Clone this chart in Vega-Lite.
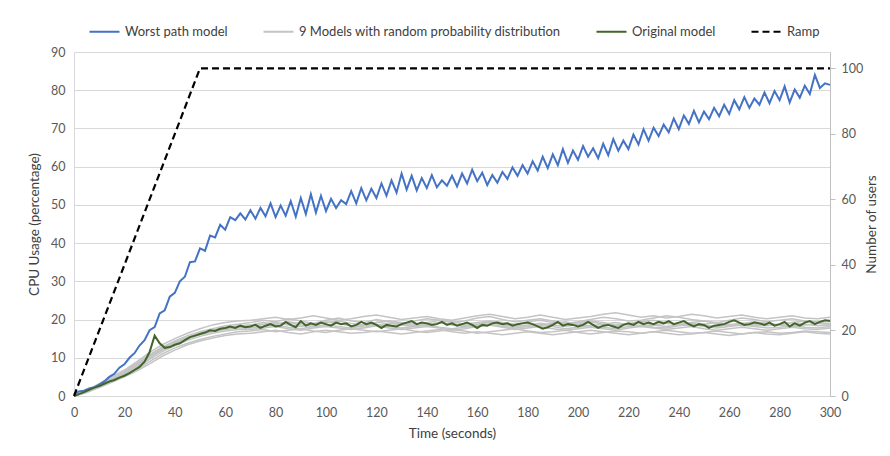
{
"$schema": "https://vega.github.io/schema/vega-lite/v6.json",
"width": 756, "height": 344,
"autosize": "none",
"padding": {"left": 74, "top": 52, "right": 60, "bottom": 60},
"background": "white",
"datasets": {
"main": [
{"t":0,"w":0.5,"o":0},{"t":2,"w":1.2,"o":0.5},{"t":4,"w":1.4,"o":1.0},{"t":6,"w":2.0,"o":1.6},{"t":8,"w":2.2,"o":2.2},{"t":10,"w":3.0,"o":2.6},{"t":12,"w":3.8,"o":3.2},{"t":14,"w":5.0,"o":3.8},{"t":16,"w":5.8,"o":4.2},{"t":18,"w":7.4,"o":4.8},
{"t":20,"w":8.3,"o":5.3},{"t":22,"w":10.0,"o":6.0},{"t":24,"w":11.2,"o":6.8},{"t":26,"w":13.2,"o":7.6},{"t":28,"w":14.6,"o":9.0},{"t":30,"w":17.2,"o":11.5},{"t":32,"w":18.0,"o":15.8},{"t":34,"w":21.6,"o":13.8},{"t":36,"w":22.4,"o":12.6},{"t":38,"w":26.0,"o":12.8},
{"t":40,"w":27.0,"o":13.4},{"t":42,"w":30.0,"o":13.8},{"t":44,"w":31.2,"o":14.6},{"t":46,"w":35.0,"o":15.4},{"t":48,"w":35.2,"o":15.8},{"t":50,"w":38.6,"o":16.2},{"t":52,"w":38.0,"o":16.6},{"t":54,"w":42.0,"o":17.2},{"t":56,"w":41.5,"o":17.0},{"t":58,"w":44.8,"o":17.6},
{"t":60,"w":43.5,"o":17.8},{"t":62,"w":46.8,"o":18.2},{"t":64,"w":46.0,"o":17.8},{"t":66,"w":47.8,"o":18.4},{"t":68,"w":46.2,"o":18.0},{"t":70,"w":48.6,"o":18.2},{"t":72,"w":46.4,"o":18.6},{"t":74,"w":49.2,"o":17.8},{"t":76,"w":47.0,"o":18.4},{"t":78,"w":50.4,"o":18.8},
{"t":80,"w":46.8,"o":18.2},{"t":82,"w":49.8,"o":18.4},{"t":84,"w":47.2,"o":19.4},{"t":86,"w":51.0,"o":18.6},{"t":88,"w":46.9,"o":18.0},{"t":90,"w":51.8,"o":19.6},{"t":92,"w":47.6,"o":18.4},{"t":94,"w":52.8,"o":19.0},{"t":96,"w":48.0,"o":18.6},{"t":98,"w":52.4,"o":19.2},
{"t":100,"w":48.4,"o":18.8},{"t":102,"w":51.6,"o":18.4},{"t":104,"w":49.2,"o":19.2},{"t":106,"w":51.2,"o":18.8},{"t":108,"w":50.2,"o":19.0},{"t":110,"w":53.6,"o":18.2},{"t":112,"w":50.4,"o":18.6},{"t":114,"w":54.4,"o":19.4},{"t":116,"w":51.2,"o":18.8},{"t":118,"w":54.2,"o":19.2},
{"t":120,"w":51.8,"o":18.6},{"t":122,"w":55.6,"o":17.8},{"t":124,"w":52.4,"o":18.6},{"t":126,"w":56.4,"o":18.4},{"t":128,"w":53.2,"o":18.2},{"t":130,"w":58.2,"o":18.8},{"t":132,"w":54.0,"o":19.2},{"t":134,"w":57.6,"o":19.6},{"t":136,"w":53.8,"o":18.8},{"t":138,"w":57.0,"o":19.2},
{"t":140,"w":54.4,"o":19.0},{"t":142,"w":57.8,"o":18.6},{"t":144,"w":54.6,"o":18.8},{"t":146,"w":56.4,"o":19.4},{"t":148,"w":55.0,"o":18.6},{"t":150,"w":57.6,"o":19.0},{"t":152,"w":54.8,"o":18.4},{"t":154,"w":58.2,"o":18.8},{"t":156,"w":55.6,"o":19.2},{"t":158,"w":59.2,"o":18.6},
{"t":160,"w":56.2,"o":17.8},{"t":162,"w":58.4,"o":18.6},{"t":164,"w":55.2,"o":18.4},{"t":166,"w":57.8,"o":19.0},{"t":168,"w":55.8,"o":19.2},{"t":170,"w":58.6,"o":18.8},{"t":172,"w":56.8,"o":19.0},{"t":174,"w":59.8,"o":18.4},{"t":176,"w":57.6,"o":18.8},{"t":178,"w":60.4,"o":19.0},
{"t":180,"w":58.2,"o":19.2},{"t":182,"w":61.4,"o":18.8},{"t":184,"w":59.0,"o":18.2},{"t":186,"w":62.6,"o":17.6},{"t":188,"w":59.6,"o":18.0},{"t":190,"w":63.2,"o":18.6},{"t":192,"w":60.4,"o":19.4},{"t":194,"w":64.6,"o":18.4},{"t":196,"w":61.0,"o":18.8},{"t":198,"w":64.2,"o":18.6},
{"t":200,"w":61.8,"o":18.2},{"t":202,"w":65.4,"o":18.6},{"t":204,"w":62.6,"o":19.4},{"t":206,"w":64.8,"o":18.6},{"t":208,"w":62.2,"o":17.8},{"t":210,"w":66.0,"o":18.4},{"t":212,"w":63.0,"o":18.6},{"t":214,"w":67.2,"o":18.2},{"t":216,"w":64.2,"o":17.8},{"t":218,"w":66.8,"o":18.6},
{"t":220,"w":64.6,"o":19.0},{"t":222,"w":68.4,"o":18.6},{"t":224,"w":65.8,"o":19.4},{"t":226,"w":69.8,"o":18.8},{"t":228,"w":66.8,"o":19.2},{"t":230,"w":70.2,"o":18.8},{"t":232,"w":68.0,"o":19.4},{"t":234,"w":71.0,"o":19.0},{"t":236,"w":69.0,"o":19.6},{"t":238,"w":72.6,"o":18.8},
{"t":240,"w":69.8,"o":19.2},{"t":242,"w":73.4,"o":19.6},{"t":244,"w":71.2,"o":18.8},{"t":246,"w":74.6,"o":18.2},{"t":248,"w":71.6,"o":18.8},{"t":250,"w":74.4,"o":18.6},{"t":252,"w":72.4,"o":17.8},{"t":254,"w":75.4,"o":18.4},{"t":256,"w":73.2,"o":18.6},{"t":258,"w":76.2,"o":18.8},
{"t":260,"w":73.8,"o":19.4},{"t":262,"w":77.4,"o":19.8},{"t":264,"w":75.0,"o":19.2},{"t":266,"w":78.2,"o":18.6},{"t":268,"w":75.4,"o":18.8},{"t":270,"w":77.8,"o":19.2},{"t":272,"w":76.2,"o":19.0},{"t":274,"w":79.4,"o":18.6},{"t":276,"w":76.6,"o":19.2},{"t":278,"w":79.8,"o":18.4},
{"t":280,"w":77.4,"o":18.8},{"t":282,"w":81.0,"o":19.4},{"t":284,"w":76.8,"o":18.2},{"t":286,"w":80.2,"o":19.0},{"t":288,"w":78.0,"o":18.4},{"t":290,"w":81.2,"o":19.2},{"t":292,"w":79.0,"o":19.6},{"t":294,"w":84.0,"o":18.8},{"t":296,"w":80.6,"o":19.4},{"t":298,"w":81.8,"o":19.8},
{"t":300,"w":81.4,"o":19.6}
],
"gray": [
{"t":0,"g1":0,"g2":0,"g3":0,"g4":0,"g5":0,"g6":0,"g7":0,"g8":0,"g9":0},
{"t":5,"g1":1.4,"g2":1.2,"g3":1.0,"g4":1.3,"g5":1.5,"g6":0.9,"g7":1.2,"g8":1.1,"g9":1.3},
{"t":10,"g1":3.0,"g2":2.8,"g3":2.4,"g4":2.9,"g5":3.2,"g6":2.2,"g7":2.7,"g8":2.6,"g9":2.8},
{"t":15,"g1":4.6,"g2":4.2,"g3":3.8,"g4":4.4,"g5":5.0,"g6":3.6,"g7":4.3,"g8":4.0,"g9":4.4},
{"t":20,"g1":6.4,"g2":5.8,"g3":5.2,"g4":6.0,"g5":6.8,"g6":5.0,"g7":6.0,"g8":5.6,"g9":6.2},
{"t":25,"g1":8.6,"g2":7.8,"g3":7.0,"g4":8.2,"g5":9.0,"g6":6.6,"g7":8.0,"g8":7.4,"g9":8.4},
{"t":30,"g1":10.8,"g2":10.0,"g3":9.0,"g4":10.4,"g5":11.4,"g6":8.4,"g7":10.2,"g8":9.6,"g9":10.6},
{"t":35,"g1":12.8,"g2":12.2,"g3":11.0,"g4":12.4,"g5":13.4,"g6":10.4,"g7":12.0,"g8":11.6,"g9":12.6},
{"t":40,"g1":14.4,"g2":13.8,"g3":12.6,"g4":14.0,"g5":15.0,"g6":12.0,"g7":13.6,"g8":13.2,"g9":14.2},
{"t":45,"g1":15.8,"g2":15.0,"g3":13.8,"g4":15.2,"g5":16.4,"g6":13.4,"g7":15.0,"g8":14.6,"g9":15.4},
{"t":50,"g1":16.8,"g2":16.2,"g3":14.8,"g4":16.0,"g5":17.6,"g6":14.4,"g7":16.2,"g8":15.6,"g9":16.4},
{"t":55,"g1":17.6,"g2":17.0,"g3":15.6,"g4":16.8,"g5":18.6,"g6":15.2,"g7":17.2,"g8":16.4,"g9":17.2},
{"t":60,"g1":18.4,"g2":17.6,"g3":16.2,"g4":17.4,"g5":19.2,"g6":15.8,"g7":17.8,"g8":17.0,"g9":17.8},
{"t":65,"g1":18.8,"g2":18.0,"g3":16.8,"g4":17.8,"g5":19.6,"g6":16.2,"g7":18.4,"g8":17.4,"g9":18.2},
{"t":70,"g1":19.2,"g2":18.4,"g3":17.0,"g4":17.8,"g5":19.8,"g6":16.4,"g7":18.6,"g8":17.4,"g9":18.6},
{"t":75,"g1":19.8,"g2":18.8,"g3":17.4,"g4":18.2,"g5":20.2,"g6":16.8,"g7":19.2,"g8":17.8,"g9":18.2},
{"t":80,"g1":19.4,"g2":19.2,"g3":16.8,"g4":18.6,"g5":20.6,"g6":17.2,"g7":18.8,"g8":18.2,"g9":18.8},
{"t":85,"g1":20.2,"g2":18.6,"g3":17.2,"g4":18.0,"g5":20.0,"g6":16.6,"g7":19.4,"g8":17.6,"g9":19.2},
{"t":90,"g1":19.6,"g2":18.2,"g3":17.6,"g4":17.6,"g5":20.4,"g6":16.2,"g7":19.0,"g8":17.2,"g9":18.6},
{"t":95,"g1":19.0,"g2":18.8,"g3":17.0,"g4":18.2,"g5":21.0,"g6":16.8,"g7":18.6,"g8":17.8,"g9":18.2},
{"t":100,"g1":19.8,"g2":19.4,"g3":16.6,"g4":18.6,"g5":20.4,"g6":17.2,"g7":19.2,"g8":18.2,"g9":18.6},
{"t":105,"g1":20.4,"g2":19.0,"g3":17.2,"g4":18.2,"g5":19.8,"g6":16.8,"g7":19.6,"g8":17.8,"g9":19.0},
{"t":110,"g1":19.6,"g2":18.4,"g3":17.6,"g4":17.8,"g5":20.2,"g6":16.4,"g7":19.0,"g8":17.4,"g9":18.4},
{"t":115,"g1":19.2,"g2":18.6,"g3":17.2,"g4":18.4,"g5":20.8,"g6":16.6,"g7":18.6,"g8":17.8,"g9":18.0},
{"t":120,"g1":20.0,"g2":19.2,"g3":16.8,"g4":18.8,"g5":21.2,"g6":17.0,"g7":19.2,"g8":18.4,"g9":18.6},
{"t":125,"g1":19.4,"g2":19.6,"g3":17.2,"g4":18.2,"g5":20.6,"g6":16.6,"g7":19.6,"g8":17.8,"g9":19.0},
{"t":130,"g1":18.8,"g2":19.0,"g3":17.6,"g4":17.8,"g5":20.0,"g6":16.2,"g7":19.2,"g8":17.4,"g9":18.6},
{"t":135,"g1":19.6,"g2":18.4,"g3":17.0,"g4":18.2,"g5":20.4,"g6":16.6,"g7":18.8,"g8":17.8,"g9":18.2},
{"t":140,"g1":20.2,"g2":18.8,"g3":16.6,"g4":18.6,"g5":20.8,"g6":17.0,"g7":19.2,"g8":18.2,"g9":18.6},
{"t":145,"g1":19.8,"g2":19.2,"g3":17.0,"g4":18.0,"g5":20.2,"g6":17.4,"g7":19.8,"g8":17.8,"g9":19.2},
{"t":150,"g1":19.2,"g2":18.6,"g3":17.4,"g4":17.6,"g5":19.8,"g6":16.8,"g7":19.4,"g8":17.2,"g9":18.8},
{"t":155,"g1":19.6,"g2":18.2,"g3":17.0,"g4":18.0,"g5":20.4,"g6":16.4,"g7":18.8,"g8":17.6,"g9":18.4},
{"t":160,"g1":20.4,"g2":18.8,"g3":16.4,"g4":18.4,"g5":21.0,"g6":16.8,"g7":19.2,"g8":18.2,"g9":18.8},
{"t":165,"g1":20.8,"g2":19.4,"g3":16.8,"g4":18.8,"g5":21.4,"g6":16.4,"g7":19.6,"g8":18.6,"g9":19.2},
{"t":170,"g1":20.0,"g2":19.0,"g3":17.2,"g4":18.2,"g5":20.8,"g6":16.0,"g7":19.2,"g8":18.0,"g9":18.6},
{"t":175,"g1":19.4,"g2":18.6,"g3":17.6,"g4":17.8,"g5":20.2,"g6":16.4,"g7":18.8,"g8":17.4,"g9":18.2},
{"t":180,"g1":19.8,"g2":18.2,"g3":17.0,"g4":18.2,"g5":20.6,"g6":16.8,"g7":19.4,"g8":17.8,"g9":18.6},
{"t":185,"g1":20.2,"g2":18.6,"g3":16.6,"g4":18.6,"g5":21.2,"g6":16.4,"g7":19.8,"g8":18.2,"g9":19.0},
{"t":190,"g1":19.6,"g2":19.0,"g3":16.8,"g4":18.2,"g5":20.6,"g6":16.0,"g7":19.2,"g8":17.6,"g9":18.6},
{"t":195,"g1":19.0,"g2":19.4,"g3":17.2,"g4":17.6,"g5":20.0,"g6":16.4,"g7":18.8,"g8":17.2,"g9":18.2},
{"t":200,"g1":19.4,"g2":18.8,"g3":16.6,"g4":18.0,"g5":20.4,"g6":16.8,"g7":19.2,"g8":17.6,"g9":18.8},
{"t":205,"g1":20.0,"g2":18.4,"g3":16.2,"g4":18.4,"g5":20.8,"g6":17.2,"g7":19.6,"g8":18.0,"g9":19.4},
{"t":210,"g1":20.6,"g2":18.8,"g3":16.6,"g4":18.0,"g5":21.4,"g6":16.8,"g7":19.2,"g8":17.6,"g9":18.8},
{"t":215,"g1":20.2,"g2":19.2,"g3":17.0,"g4":17.6,"g5":21.8,"g6":16.4,"g7":18.6,"g8":17.2,"g9":18.4},
{"t":220,"g1":19.6,"g2":18.6,"g3":16.8,"g4":18.2,"g5":21.2,"g6":16.0,"g7":19.0,"g8":17.8,"g9":18.8},
{"t":225,"g1":19.8,"g2":18.2,"g3":16.4,"g4":18.6,"g5":20.6,"g6":16.4,"g7":19.4,"g8":18.2,"g9":19.2},
{"t":230,"g1":20.4,"g2":18.6,"g3":16.8,"g4":18.0,"g5":21.0,"g6":16.8,"g7":19.8,"g8":17.8,"g9":18.6},
{"t":235,"g1":21.0,"g2":19.0,"g3":17.2,"g4":17.8,"g5":20.4,"g6":16.4,"g7":19.2,"g8":17.4,"g9":18.2},
{"t":240,"g1":20.6,"g2":18.8,"g3":16.8,"g4":18.4,"g5":20.8,"g6":16.0,"g7":18.8,"g8":17.8,"g9":18.6},
{"t":245,"g1":20.0,"g2":18.4,"g3":16.4,"g4":18.8,"g5":21.4,"g6":16.2,"g7":19.2,"g8":18.2,"g9":19.0},
{"t":250,"g1":19.6,"g2":18.8,"g3":16.6,"g4":18.2,"g5":21.0,"g6":16.6,"g7":19.6,"g8":17.6,"g9":18.6},
{"t":255,"g1":19.2,"g2":19.2,"g3":17.0,"g4":17.8,"g5":20.4,"g6":16.2,"g7":19.0,"g8":17.2,"g9":18.2},
{"t":260,"g1":19.8,"g2":18.8,"g3":16.6,"g4":18.2,"g5":20.8,"g6":15.8,"g7":18.6,"g8":17.6,"g9":18.6},
{"t":265,"g1":20.4,"g2":18.4,"g3":16.2,"g4":18.6,"g5":21.2,"g6":16.2,"g7":19.0,"g8":18.0,"g9":19.0},
{"t":270,"g1":20.0,"g2":18.6,"g3":16.6,"g4":18.2,"g5":20.6,"g6":16.6,"g7":19.4,"g8":17.6,"g9":18.6},
{"t":275,"g1":19.4,"g2":19.0,"g3":16.8,"g4":17.8,"g5":20.2,"g6":16.2,"g7":19.0,"g8":17.2,"g9":18.4},
{"t":280,"g1":19.8,"g2":18.6,"g3":16.4,"g4":18.0,"g5":20.6,"g6":16.0,"g7":18.6,"g8":17.6,"g9":18.8},
{"t":285,"g1":20.2,"g2":18.2,"g3":16.6,"g4":18.4,"g5":21.0,"g6":16.4,"g7":19.2,"g8":18.0,"g9":19.2},
{"t":290,"g1":19.6,"g2":18.6,"g3":17.0,"g4":18.0,"g5":20.4,"g6":16.8,"g7":19.6,"g8":17.6,"g9":18.8},
{"t":295,"g1":19.4,"g2":19.0,"g3":16.8,"g4":17.8,"g5":20.2,"g6":16.4,"g7":19.2,"g8":17.4,"g9":18.4},
{"t":300,"g1":19.8,"g2":18.8,"g3":16.6,"g4":18.2,"g5":20.6,"g6":16.2,"g7":19.0,"g8":17.8,"g9":18.6}
],
"ramp": [{"t":0,"u":0},{"t":50,"u":100},{"t":300,"u":100}]
},
"layer": [
{
"layer": [
{
"data": {"name": "gray"},
"transform": [{"fold": ["g1","g2","g3","g4","g5","g6","g7","g8","g9"], "as": ["m","v"]}],
"mark": {"type": "line", "strokeWidth": 1.5},
"encoding": {
"x": {"field": "t", "type": "quantitative", "scale": {"domain": [0, 300], "nice": false}},
"y": {"field": "v", "type": "quantitative"},
"detail": {"field": "m"},
"color": {"datum": "9 Models with random probability distribution",
"scale": {"domain": ["Worst path model","9 Models with random probability distribution","Original model","Ramp"],
"range": ["#4472c4","#c4c4c4","#41652a","#000000"]}}
}
},
{
"data": {"name": "main"},
"mark": {"type": "line", "strokeWidth": 2},
"encoding": {
"x": {"field": "t", "type": "quantitative"},
"y": {"field": "w", "type": "quantitative"},
"color": {"datum": "Worst path model"}
}
},
{
"data": {"name": "main"},
"mark": {"type": "line", "strokeWidth": 2},
"encoding": {
"x": {"field": "t", "type": "quantitative"},
"y": {"field": "o", "type": "quantitative"},
"color": {"datum": "Original model"}
}
}
],
"encoding": {
"y": {"type": "quantitative",
"scale": {"domain": [0, 90], "nice": false},
"axis": {"title": "CPU Usage (percentage)", "values": [0,10,20,30,40,50,60,70,80,90],
"grid": true, "gridColor": "#d9d9d9", "ticks": false, "domainColor": "#d9d9d9", "labelColor": "#595959",
"labelFontSize": 12.5, "labelPadding": 9, "titleColor": "#404040", "titleFontSize": 13.5, "titleFontWeight": "normal", "titlePadding": 9}}
}
},
{
"data": {"name": "ramp"},
"mark": {"type": "line", "strokeWidth": 2.2},
"encoding": {
"x": {"field": "t", "type": "quantitative",
"scale": {"domain": [0, 300], "nice": false},
"axis": {"title": "Time (seconds)", "values": [0,20,40,60,80,100,120,140,160,180,200,220,240,260,280,300],
"grid": false, "ticks": false, "labelFlush": false, "domainColor": "#d9d9d9", "labelColor": "#595959", "labelFontSize": 12.5,
"labelPadding": 10, "titleColor": "#404040", "titleFontSize": 13.5, "titleFontWeight": "normal", "titlePadding": 8}},
"y": {"field": "u", "type": "quantitative",
"scale": {"domain": [0, 105], "nice": false},
"axis": {"orient": "right", "title": "Number of users", "values": [0,20,40,60,80,100],
"grid": false, "ticks": true, "tickSize": 5, "tickColor": "#bfbfbf", "domainColor": "#bfbfbf",
"labelColor": "#595959", "labelFontSize": 12.5, "labelPadding": 6, "titleColor": "#404040",
"titleFontSize": 13.5, "titleFontWeight": "normal", "titleAngle": 270, "titleBaseline": "bottom", "titlePadding": 16}},
"color": {"datum": "Ramp"},
"strokeDash": {"datum": "Ramp",
"scale": {"domain": ["Worst path model","9 Models with random probability distribution","Original model","Ramp"],
"range": [[1,0],[1,0],[1,0],[7,4]]}}
}
}
],
"resolve": {"scale": {"y": "independent"}},
"config": {"view": {"stroke": null}, "font": "Lato",
"legend": {"orient": "none", "legendX": 14, "legendY": -37, "direction": "horizontal", "title": null,
"symbolType": "stroke", "symbolSize": 900, "symbolStrokeWidth": 2.2, "labelFontSize": 13, "labelColor": "#404040",
"labelOffset": 4, "columnPadding": 31, "padding": 0, "labelLimit": 400}}
}
